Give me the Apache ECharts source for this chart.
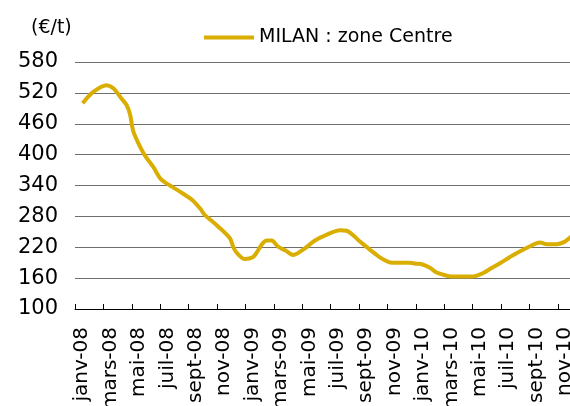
<!DOCTYPE html>
<html><head><meta charset="utf-8">
<script src="https://cdn.jsdelivr.net/npm/echarts@6/dist/echarts.min.js"></script>
<style>html,body{margin:0;padding:0;background:#fff}#c{width:570px;height:406px}</style>
</head><body><div id="c"></div>
<script>
var monthLabels = ['janv-08','févr-08','mars-08','avr-08','mai-08','juin-08','juil-08','août-08','sept-08','oct-08','nov-08','déc-08',
  'janv-09','févr-09','mars-09','avr-09','mai-09','juin-09','juil-09','août-09','sept-09','oct-09','nov-09','déc-09',
  'janv-10','févr-10','mars-10','avr-10','mai-10','juin-10','juil-10','août-10','sept-10','oct-10','nov-10'];
// time position in months since start of janv-08
var timePos = [0.54,1.29,2.23,2.7,3.3,3.64,3.87,4.1,4.5,4.93,5.51,5.99,6.34,7.39,8.33,8.9,9.1,10.09,10.92,11.15,11.4,11.97,12.55,12.8,13.2,13.5,13.85,14.3,14.8,15.37,16.0,16.2,16.9,17.7,18.66,19.13,19.6,20.07,20.65,21.2,21.6,22.3,23.59,24.0,24.42,25.0,25.47,26.0,26.53,27.94,28.3,28.75,29.3,29.93,30.87,32.04,32.75,33.22,33.92,34.5,34.86,35.2];
var milanValues = [500,522,535,529,508,496,479,446,420,398,376,354,346,328,310,292,284,260,237,220,209,197,201,210,227,233,233,221,214,205,214,218,233,244,253,252,243,231,218,206,198,190,190,188,187,180,171,166,163,163,165,170,179,189,205,222,229,226,226,231,239,246];
var yTicks = {min:100, max:580, step:60};
var seriesName = 'MILAN : zone Centre';
var unitLabel = '(€/t)';

var pts = timePos.map(function(t,i){return [t, milanValues[i]];});
var chart = echarts.init(document.getElementById('c'));
var font = 'DejaVu Sans';
chart.setOption({
  animation:false,
  title:{text:unitLabel,left:26,top:14,textStyle:{fontFamily:font,fontSize:19,fontWeight:'normal',color:'#000'}},
  legend:{left:199,top:23,itemWidth:50,itemHeight:4,itemGap:10,icon:'rect',
    textStyle:{fontFamily:font,fontSize:19,color:'#000'},
    data:[{name:seriesName}]},
  grid:{left:75,top:62,width:497,height:247,containLabel:false,outerBoundsMode:'none'},
  xAxis:[{type:'category',data:monthLabels,boundaryGap:true,
      axisLine:{show:true,lineStyle:{color:'#000',width:1}},
      axisTick:{show:true,inside:true,length:5,interval:1,lineStyle:{color:'#000'}},
      axisLabel:{interval:1,rotate:90,margin:18,fontFamily:font,fontSize:20,color:'#000'},
      splitLine:{show:false}},
    {type:'value',min:0,max:35,show:false}],
  yAxis:{type:'value',min:yTicks.min,max:yTicks.max,interval:yTicks.step,
    axisLine:{show:false},axisTick:{show:false},
    axisLabel:{margin:17,fontFamily:font,fontSize:21,color:'#000'},
    splitLine:{show:true,lineStyle:{color:'#6e6e6e',width:1}}},
  series:[{name:seriesName,type:'line',xAxisIndex:1,data:pts,showSymbol:false,smooth:0.3,
    clip:true,lineStyle:{color:'#D9AE00',width:4},itemStyle:{color:'#D9AE00'}}]
});
</script></body></html>
